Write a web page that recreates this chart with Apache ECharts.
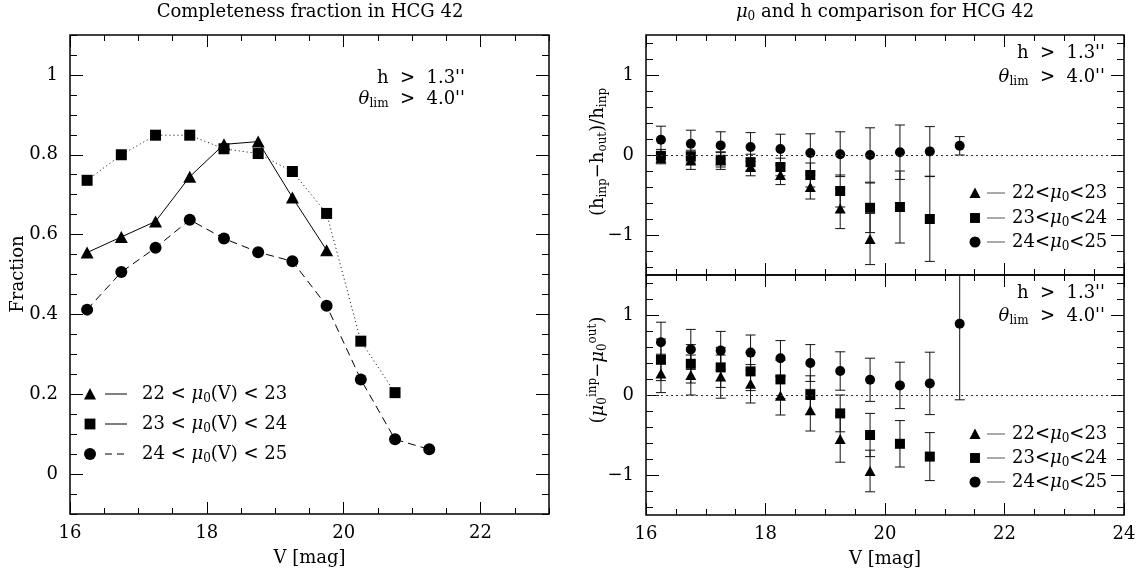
<!DOCTYPE html>
<html><head><meta charset="utf-8">
<script src="https://cdn.jsdelivr.net/npm/echarts@6/dist/echarts.min.js"></script>
<style>html,body{margin:0;padding:0;background:#fff}#c{width:1143px;height:572px}</style>
</head><body><div id="c"></div>
<script>
// ---- data ----
const V = [16.25, 16.75, 17.25, 17.75, 18.25, 18.75, 19.25, 19.75, 20.25, 20.75, 21.25];
// completeness fraction
const fracTri  = [0.555, 0.594, 0.633, 0.745, 0.826, 0.833, 0.693, 0.561];
const fracSq   = [0.736, 0.800, 0.849, 0.849, 0.815, 0.803, 0.758, 0.653, 0.333, 0.204];
const fracCirc = [0.412, 0.506, 0.567, 0.637, 0.590, 0.556, 0.533, 0.422, 0.237, 0.087, 0.062];
// (h_inp - h_out)/h_inp
const hTri      = [-0.04, -0.07, -0.07, -0.15, -0.25, -0.40, -0.67, -1.05];
const hTriErr   = [0.07, 0.11, 0.11, 0.11, 0.12, 0.15, 0.25, 0.32];
const hSq       = [-0.01, -0.02, -0.06, -0.09, -0.15, -0.25, -0.45, -0.66, -0.65, -0.80];
const hSqErr    = [0.08, 0.08, 0.09, 0.10, 0.11, 0.15, 0.20, 0.31, 0.45, 0.53];
const hCirc     = [0.19, 0.14, 0.12, 0.10, 0.075, 0.025, 0.01, 0.0, 0.035, 0.045, 0.115];
const hCircErr  = [0.17, 0.17, 0.17, 0.18, 0.185, 0.24, 0.28, 0.34, 0.34, 0.31, 0.115];
// mu0_inp - mu0_out
const muTri     = [0.27, 0.25, 0.23, 0.14, -0.01, -0.19, -0.55, -0.95];
const muTriErr  = [0.24, 0.25, 0.27, 0.24, 0.24, 0.26, 0.29, 0.26];
const muSq      = [0.44, 0.39, 0.345, 0.295, 0.195, 0.0, -0.23, -0.50, -0.61, -0.77];
const muSqErr   = [0.26, 0.24, 0.25, 0.24, 0.24, 0.24, 0.23, 0.27, 0.29, 0.30];
const muCirc    = [0.66, 0.57, 0.555, 0.53, 0.46, 0.40, 0.30, 0.19, 0.12, 0.145, 0.89];
const muCircErr = [0.25, 0.25, 0.24, 0.22, 0.22, 0.23, 0.24, 0.27, 0.29, 0.39, 0.95];
// tick labels
const leftXLabels  = [16, 18, 20, 22];
const leftYLabels  = [0, 0.2, 0.4, 0.6, 0.8, 1];
const rightXLabels = [16, 18, 20, 22, 24];
const rightYLabels = [-1, 0, 1];

// ---- helpers ----
function steps(a, b, s) { const r = []; for (let i = 0; a + i * s <= b + 1e-9; i++) r.push(+(a + i * s).toFixed(4)); return r; }
const F = 'DejaVu Serif';
const FS = 18;
const fmt = v => String(+(+v).toFixed(3)).replace('-', '\u2212');

const grids = [
  { left: 70, top: 35, width: 479, height: 479, show: true, borderColor: '#000', borderWidth: 1.5 },
  { left: 646, top: 35, width: 478, height: 240, show: true, borderColor: '#000', borderWidth: 1.5 },
  { left: 646, top: 275, width: 478, height: 240, show: true, borderColor: '#000', borderWidth: 1.5 }
];
const specs = [
  { x: [16, 23], y: [-0.1, 1.1], xMaj: [16, 18, 20, 22], xMin: steps(16, 23, 0.5), yMaj: leftYLabels, yMin: steps(-0.1, 1.1, 0.05), xLab: leftXLabels, yLab: leftYLabels, xName: 'V [mag]' },
  { x: [16, 24], y: [-1.5, 1.5], xMaj: [16, 18, 20, 22, 24], xMin: steps(16, 24, 0.5), yMaj: [-1, 0, 1], yMin: steps(-1.4, 1.4, 0.2), xLab: null, yLab: rightYLabels, xName: '' },
  { x: [16, 24], y: [-1.5, 1.5], xMaj: [16, 18, 20, 22, 24], xMin: steps(16, 24, 0.5), yMaj: [-1, 0, 1], yMin: steps(-1.4, 1.4, 0.2), xLab: rightXLabels, yLab: rightYLabels, xName: 'V [mag]' }
];
function axis(g, range, pos, ticks, len, labels, margin, name) {
  const a = {
    type: 'value', gridIndex: g, min: range[0], max: range[1], position: pos,
    axisLine: { show: false, onZero: false }, splitLine: { show: false },
    axisTick: { show: true, inside: true, length: len, customValues: ticks, lineStyle: { color: '#000', width: 1 } },
    axisLabel: labels ? { show: true, customValues: labels, margin: margin, color: '#000', fontFamily: F, fontSize: FS, formatter: fmt } : { show: false }
  };
  if (name) {
    a.name = name; a.nameLocation = 'middle'; a.nameGap = 35;
    a.nameTextStyle = { color: '#000', fontFamily: F, fontSize: FS };
  }
  return a;
}
const xAxes = [], yAxes = [];
specs.forEach((s, g) => {
  xAxes.push(axis(g, s.x, 'bottom', s.xMaj, 12, s.xLab, 10, s.xName));
  xAxes.push(axis(g, s.x, 'bottom', s.xMin, 6, null));
  xAxes.push(axis(g, s.x, 'top', s.xMaj, 12, null));
  xAxes.push(axis(g, s.x, 'top', s.xMin, 6, null));
  yAxes.push(axis(g, s.y, 'left', s.yMaj, 13, s.yLab, 12));
  yAxes.push(axis(g, s.y, 'left', s.yMin, 7, null));
  yAxes.push(axis(g, s.y, 'right', s.yMaj, 13, null));
  yAxes.push(axis(g, s.y, 'right', s.yMin, 7, null));
});

const pairs = arr => arr.map((v, i) => [V[i], v]);
const trip = (arr, err) => arr.map((v, i) => [V[i], v, err[i]]);

function errRender(params, api) {
  const x = api.value(0), y = api.value(1), e = api.value(2);
  const cs = params.coordSys;
  const top = cs.y, bot = cs.y + cs.height;
  const a = api.coord([x, y + e]), b = api.coord([x, y - e]);
  let y1 = a[1], y2 = b[1];
  const cx = a[0], w = 5;
  const st = { stroke: '#111', lineWidth: 1 };
  const ch = [];
  const clipT = y1 < top, clipB = y2 > bot;
  if (clipT) y1 = top;
  if (clipB) y2 = bot;
  ch.push({ type: 'line', shape: { x1: cx, y1: y1, x2: cx, y2: y2 }, style: st });
  if (!clipT) ch.push({ type: 'line', shape: { x1: cx - w, y1: y1, x2: cx + w, y2: y1 }, style: st });
  if (!clipB) ch.push({ type: 'line', shape: { x1: cx - w, y1: y2, x2: cx + w, y2: y2 }, style: st });
  return { type: 'group', children: ch };
}
function errSeries(g, arr, err) {
  return { type: 'custom', xAxisIndex: 4 * g, yAxisIndex: 4 * g, data: trip(arr, err), renderItem: errRender, z: 2, silent: true, animation: false, encode: { x: 0, y: 1 } };
}
function pts(g, arr, sym, size, extra) {
  return Object.assign({ type: 'scatter', xAxisIndex: 4 * g, yAxisIndex: 4 * g, data: pairs(arr), symbol: sym, symbolSize: size, itemStyle: { color: '#000', opacity: 1 }, z: 3, silent: true, animation: false }, extra || {});
}
function zeroLine() {
  return { silent: true, symbol: ['none', 'none'], label: { show: false }, animation: false, lineStyle: { color: '#333', type: [2, 3], width: 1 }, data: [{ yAxis: 0 }] };
}
function lineS(arr, sym, size, type) {
  return { type: 'line', xAxisIndex: 0, yAxisIndex: 0, data: pairs(arr), symbol: sym, symbolSize: size, showSymbol: true, itemStyle: { color: '#000' }, lineStyle: { color: '#000', width: 1, type: type }, z: 3, silent: true, animation: false };
}

const series = [
  lineS(fracTri, 'triangle', [13, 12], 'solid'),
  lineS(fracSq, 'rect', 11, [1, 3]),
  lineS(fracCirc, 'circle', 12, [8, 5]),
  errSeries(1, hTri, hTriErr), errSeries(1, hSq, hSqErr), errSeries(1, hCirc, hCircErr),
  pts(1, hTri, 'triangle', [11, 10], { markLine: zeroLine() }), pts(1, hSq, 'rect', 10), pts(1, hCirc, 'circle', 10),
  errSeries(2, muTri, muTriErr), errSeries(2, muSq, muSqErr), errSeries(2, muCirc, muCircErr),
  pts(2, muTri, 'triangle', [11, 10], { markLine: zeroLine() }), pts(2, muSq, 'rect', 10), pts(2, muCirc, 'circle', 10)
];

// ---- rich text styles ----
const rich = {
  n: { fontFamily: F, fontSize: FS, lineHeight: 22, verticalAlign: 'middle', fill: '#000', color: '#000' },
  mu: { fontFamily: F, fontSize: FS, fontStyle: 'italic', lineHeight: 22, verticalAlign: 'middle', fill: '#000', color: '#000' },
  sub: { fontFamily: F, fontSize: 12, lineHeight: 11, verticalAlign: 'bottom', fill: '#000', color: '#000' },
  sup: { fontFamily: F, fontSize: 12, lineHeight: 11, verticalAlign: 'top', fill: '#000', color: '#000' }
};
function txt(x, y, text, align, rot) {
  return {
    type: 'text', x: x, y: y, rotation: rot || 0, silent: true, z: 10,
    style: { text: text, rich: rich, fontFamily: F, fontSize: FS, fill: '#000', align: align || 'left', verticalAlign: 'middle', textAlign: align || 'left', textVerticalAlign: 'middle' }
  };
}
const graphics = [];
graphics.push(txt(310, 12, '{n|Completeness fraction in HCG 42}', 'center'));
graphics.push(txt(885, 12, '{mu|μ}{sub|0}{n| and h comparison for HCG 42}', 'center'));
graphics.push(txt(18, 274, '{n|Fraction}', 'center', Math.PI / 2));
graphics.push(txt(598, 152, '{n|(h}{sub|inp}{n|\u2212h}{sub|out}{n|)/h}{sub|inp}', 'center', Math.PI / 2));
graphics.push(txt(598, 370, '{n|(}{mu|μ}{sub|0}{sup|inp}{n|\u2212}{mu|μ}{sub|0}{sup|out}{n|)}', 'center', Math.PI / 2));
// annotations
[[465, 78, 99], [1105, 53, 77], [1105, 293, 316]].forEach(p => {
  graphics.push(txt(p[0], p[1], "{n|h  >  1.3''}", 'right'));
  graphics.push(txt(p[0], p[2], "{mu|θ}{sub|lim}{n|  >  4.0''}", 'right'));
});
// legend helpers
function marker(kind, x, y, s) {
  const st = { fill: '#000' };
  if (kind === 'tri') return { type: 'polygon', silent: true, z: 10, shape: { points: [[x - s / 2, y + s * 0.45], [x + s / 2, y + s * 0.45], [x, y - s * 0.5]] }, style: st };
  if (kind === 'sq') return { type: 'rect', silent: true, z: 10, shape: { x: x - s * 0.45, y: y - s * 0.45, width: s * 0.9, height: s * 0.9 }, style: st };
  return { type: 'circle', silent: true, z: 10, shape: { cx: x, cy: y, r: s / 2 }, style: st };
}
function seg(x1, x2, y, dash, color) {
  return { type: 'line', silent: true, z: 10, shape: { x1: x1, y1: y, x2: x2, y2: y }, style: { stroke: color || '#000', lineWidth: 1, lineDash: dash || null } };
}
// left legend
const leftLeg = [['tri', null, '22'], ['sq', null, '23'], ['circ', [7, 5], '24']];
[394, 424, 454].forEach((y, i) => {
  const L = leftLeg[i];
  graphics.push(marker(L[0], 90, y, 12));
  graphics.push(seg(105, 127, y, L[1]));
  graphics.push(txt(142, y, '{n|' + L[2] + ' < }{mu|μ}{sub|0}{n|(V) < ' + (+L[2] + 1) + '}', 'left'));
});
// right legends
const rLeg = [['tri', '22'], ['sq', '23'], ['circ', '24']];
[[193, 218, 242], [434, 458, 482]].forEach(rows => {
  rows.forEach((y, i) => {
    graphics.push(marker(rLeg[i][0], 975, y, 11));
    graphics.push(seg(987, 1005, y, null, '#555'));
    graphics.push(txt(1012, y, '{n|' + rLeg[i][1] + '<}{mu|μ}{sub|0}{n|<' + (+rLeg[i][1] + 1) + '}', 'left'));
  });
});

const chart = echarts.init(document.getElementById('c'), null, { renderer: 'canvas' });
chart.setOption({
  animation: false,
  backgroundColor: '#fff',
  grid: grids,
  xAxis: xAxes,
  yAxis: yAxes,
  series: series,
  graphic: graphics
});
</script>
</body></html>
